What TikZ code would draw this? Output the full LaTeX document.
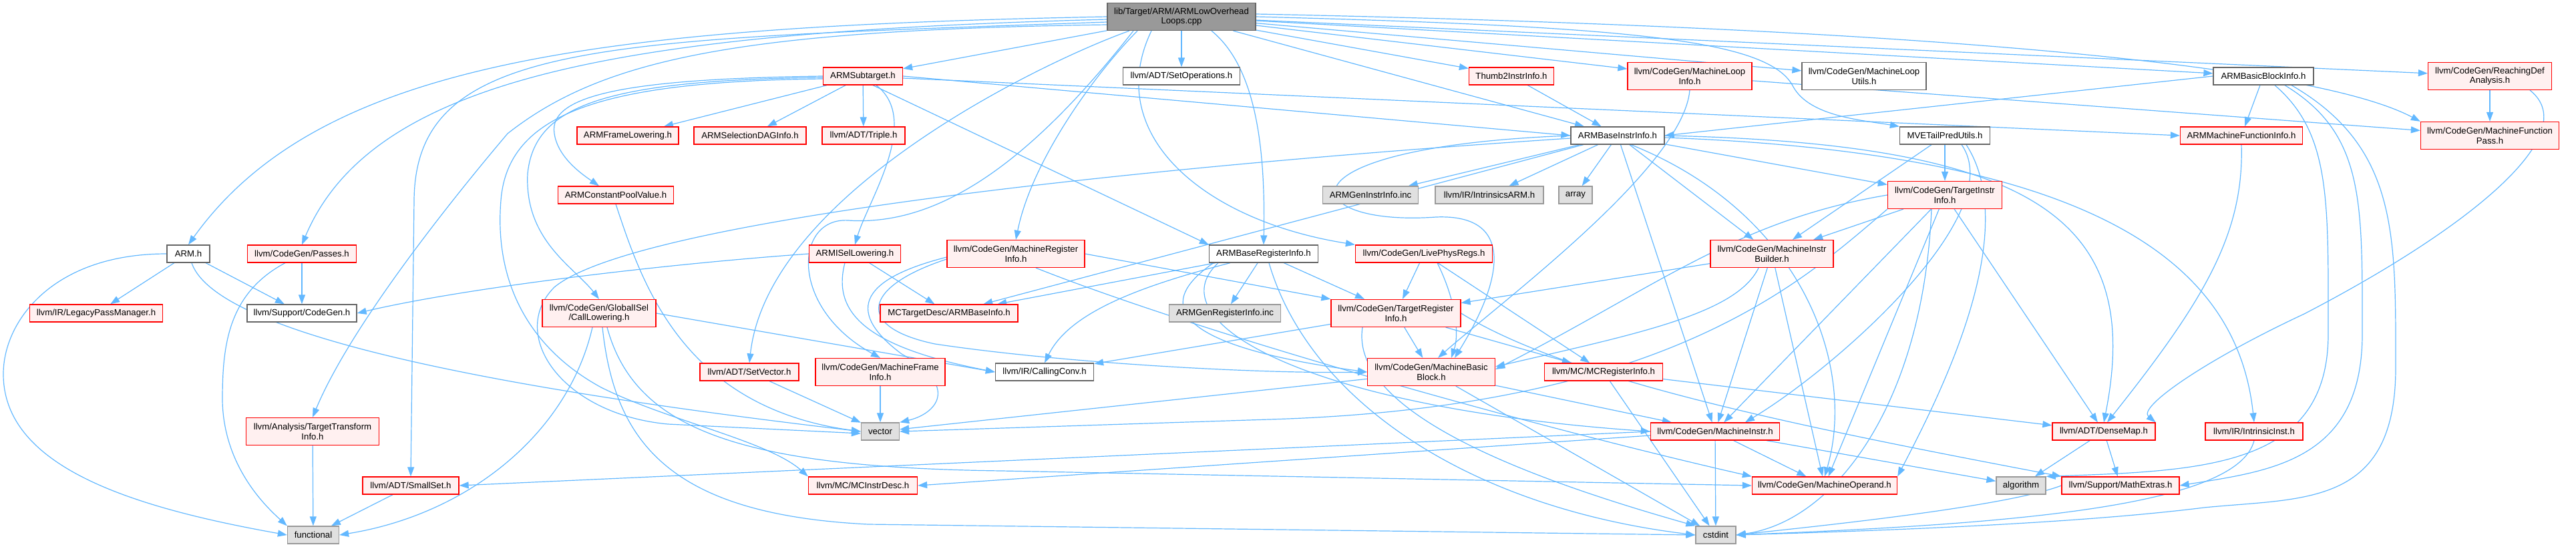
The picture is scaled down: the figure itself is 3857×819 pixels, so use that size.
\documentclass[tikz,border=0pt]{standalone}
\usepackage{fontspec}
\setmainfont{Liberation Sans}
\usetikzlibrary{arrows.meta}
\definecolor{eblue}{HTML}{63B8FF}
\definecolor{rfill}{HTML}{FFF0F0}
\definecolor{gfill}{HTML}{E0E0E0}
\definecolor{rline}{HTML}{FF0000}
\pgfdeclarelayer{bg}
\pgfsetlayers{bg,main}
\tikzset{
  box/.style={rectangle, inner sep=0pt, font=\fontsize{13.2}{14.6}\selectfont, align=center, line width=1.3pt, minimum height=26pt},
  two/.style={minimum height=41pt},
  rbox/.style={box, draw=rline, fill=rfill},
  wbox/.style={box, draw=black!60, fill=white},
  gbox/.style={box, draw=black!40, fill=gfill},
  tbox/.style={box, draw=black!60, fill=black!40},
  conn/.style={draw=eblue, line width=1.2pt, -{Triangle[length=14pt,width=10pt]}},
}
\begin{document}
\begin{tikzpicture}[x=1pt,y=-1pt]
\useasboundingbox (0,0) rectangle (3857,819);
% row 0
\node[tbox,two,minimum width=222pt] (top) at (1769,25) {lib/Target/ARM/ARMLowOverhead\\Loops.cpp};
% row 1
\node[rbox,minimum width=119pt] (subt) at (1292,114) {ARMSubtarget.h};
\node[wbox,minimum width=175pt] (setops) at (1769,114) {llvm/ADT/SetOperations.h};
\node[rbox,minimum width=127pt] (t2ii) at (2263,114) {Thumb2InstrInfo.h};
\node[rbox,two,minimum width=186pt] (mli) at (2530,114) {llvm/CodeGen/MachineLoop\\Info.h};
\node[wbox,two,minimum width=186pt] (mlu) at (2791,114) {llvm/CodeGen/MachineLoop\\Utils.h};
\node[wbox,minimum width=150pt] (bbi) at (3389,114) {ARMBasicBlockInfo.h};
\node[rbox,two,minimum width=185pt] (rda) at (3728,114) {llvm/CodeGen/ReachingDef\\Analysis.h};
% row 2
\node[rbox,minimum width=152pt] (afl) at (940,203) {ARMFrameLowering.h};
\node[rbox,minimum width=168pt] (sdag) at (1123,203) {ARMSelectionDAGInfo.h};
\node[rbox,minimum width=124pt] (triple) at (1293,203) {llvm/ADT/Triple.h};
\node[wbox,minimum width=140pt] (bii) at (2422,203) {ARMBaseInstrInfo.h};
\node[wbox,minimum width=135pt] (mve) at (2912,203) {MVETailPredUtils.h};
\node[rbox,minimum width=183pt] (mfi) at (3356,203) {ARMMachineFunctionInfo.h};
\node[rbox,two,minimum width=207pt] (mfp) at (3728,203) {llvm/CodeGen/MachineFunction\\Pass.h};
% row 3
\node[rbox,minimum width=173pt] (cpv) at (922,292) {ARMConstantPoolValue.h};
\node[gbox,minimum width=143pt] (geninc) at (2052,292) {ARMGenInstrInfo.inc};
\node[gbox,minimum width=162pt] (iarm) at (2230,292) {llvm/IR/IntrinsicsARM.h};
\node[gbox,minimum width=50pt] (array) at (2359,292) {array};
\node[rbox,two,minimum width=171pt] (tii) at (2912,292) {llvm/CodeGen/TargetInstr\\Info.h};
% row 4
\node[wbox,minimum width=64pt] (arm) at (282,380) {ARM.h};
\node[rbox,minimum width=163pt] (passes) at (452,380) {llvm/CodeGen/Passes.h};
\node[rbox,minimum width=137pt] (isel) at (1280,380) {ARMISelLowering.h};
\node[rbox,two,minimum width=206pt] (mri) at (1521,380) {llvm/CodeGen/MachineRegister\\Info.h};
\node[wbox,minimum width=163pt] (bri) at (1892,380) {ARMBaseRegisterInfo.h};
\node[rbox,minimum width=205pt] (lpr) at (2132,380) {llvm/CodeGen/LivePhysRegs.h};
\node[rbox,two,minimum width=184pt] (mib) at (2653,380) {llvm/CodeGen/MachineInstr\\Builder.h};
% row 5
\node[rbox,minimum width=199pt] (lpm) at (144,469) {llvm/IR/LegacyPassManager.h};
\node[wbox,minimum width=164pt] (cg) at (452,469) {llvm/Support/CodeGen.h};
\node[rbox,two,minimum width=170pt] (cl) at (897,469) {llvm/CodeGen/GlobalISel\\/CallLowering.h};
\node[rbox,minimum width=206pt] (abi) at (1421,469) {MCTargetDesc/ARMBaseInfo.h};
\node[gbox,minimum width=167pt] (genreg) at (1834,469) {ARMGenRegisterInfo.inc};
\node[rbox,two,minimum width=194pt] (tri) at (2090,469) {llvm/CodeGen/TargetRegister\\Info.h};
% row 6
\node[rbox,minimum width=148pt] (setvec) at (1122,557) {llvm/ADT/SetVector.h};
\node[rbox,two,minimum width=194pt] (mframe) at (1318,557) {llvm/CodeGen/MachineFrame\\Info.h};
\node[wbox,minimum width=147pt] (cc) at (1564,557) {llvm/IR/CallingConv.h};
\node[rbox,two,minimum width=191pt] (mbb) at (2143,557) {llvm/CodeGen/MachineBasic\\Block.h};
\node[rbox,minimum width=177pt] (mcri) at (2401,557) {llvm/MC/MCRegisterInfo.h};
% row 7
\node[rbox,two,minimum width=199pt] (tti) at (468,646) {llvm/Analysis/TargetTransform\\Info.h};
\node[gbox,minimum width=57pt] (vector) at (1318,646) {vector};
\node[rbox,minimum width=193pt] (mi) at (2568,646) {llvm/CodeGen/MachineInstr.h};
\node[rbox,minimum width=154pt] (dm) at (3150,646) {llvm/ADT/DenseMap.h};
\node[rbox,minimum width=146pt] (ii) at (3375,646) {llvm/IR/IntrinsicInst.h};
% row 8
\node[rbox,minimum width=144pt] (smallset) at (615,727) {llvm/ADT/SmallSet.h};
\node[rbox,minimum width=163pt] (mcid) at (1292,727) {llvm/MC/MCInstrDesc.h};
\node[rbox,minimum width=217pt] (mo) at (2732,727) {llvm/CodeGen/MachineOperand.h};
\node[gbox,minimum width=74pt] (algo) at (3026,727) {algorithm};
\node[rbox,minimum width=176pt] (mathx) at (3175,727) {llvm/Support/MathExtras.h};
% row 9
\node[gbox,minimum width=77pt] (func) at (469,801) {functional};
\node[gbox,minimum width=60pt] (cstdint) at (2569,801) {cstdint};

\begin{pgfonlayer}{bg}
% top node
\draw[conn] (top.west) .. controls (900,40) and (480,90) .. (arm.north);
\draw[conn] ([yshift=-4pt]top.west) .. controls (950,48) and (560,110) .. (passes.north);
\draw[conn] ([yshift=-8pt]top.west) .. controls (900,60) and (622,60) .. (620,300) -- (smallset.north);
\draw[conn] ([yshift=-12pt]top.west) .. controls (1100,45) and (900,90) .. (760,200) .. controls (650,330) and (520,500) .. (tti.north);
\draw[conn] (top) -- (subt);
\draw[conn] (top) -- (setops);
\draw[conn] ([xshift=-78pt]top.south) .. controls (1560,93) and (1150,290) .. (setvec.north);
\draw[conn] ([xshift=-72pt]top.south) .. controls (1560,220) and (1420,340) .. (1270,330) .. controls (1190,325) and (1180,460) .. (mframe.north);
\draw[conn] ([xshift=-66pt]top.south) .. controls (1640,110) and (1545,240) .. (mri.north);
\draw[conn] ([xshift=-45pt]top.south) .. controls (1650,200) and (1800,330) .. (lpr.north west);
\draw[conn] ([xshift=45pt]top.south) .. controls (1880,100) and (1895,220) .. (bri.north);
\draw[conn] (top) -- (t2ii);
\draw[conn] (top) -- (mli);
\draw[conn] (top) -- (mlu);
\draw[conn] (top) -- (bbi);
\draw[conn] (top) -- (rda);
\draw[conn] (top) -- (bii);
\draw[conn] (top.east) .. controls (2450,40) and (2650,60) .. (2685,130) .. controls (2710,175) and (2790,180) .. (mve.north west);
\draw[conn] ([yshift=4pt]top.east) .. controls (2800,40) and (3450,90) .. (mfp.north west);
% ARMSubtarget
\draw[conn] (subt) -- (afl);
\draw[conn] (subt) -- (sdag);
\draw[conn] (subt) -- (triple);
\draw[conn] (subt.west) .. controls (950,118) and (820,140) .. (830,200) .. controls (835,235) and (870,260) .. ([xshift=-25pt]cpv.north);
\draw[conn] ([yshift=-2pt]subt.west) .. controls (900,120) and (800,160) .. (790,260) .. controls (785,360) and (860,400) .. (cl.north);
\draw[conn] ([yshift=-4pt]subt.west) .. controls (900,122) and (760,170) .. (750,300) .. controls (740,420) and (790,520) .. (900,580) .. controls (1000,630) and (1150,660) .. (mcid.north west);
\draw[conn] ([xshift=20pt]subt.south) .. controls (1380,180) and (1300,300) .. (isel.north);
\draw[conn] ([xshift=15pt]subt.south) -- (bri.north west);
\draw[conn] (subt.east) -- (bii.west);
\draw[conn] ([yshift=-3pt]subt.east) -- (mfi.west);
% ARM.h
\draw[conn] (arm) -- (lpm);
\draw[conn] (arm) -- (cg);
\draw[conn] (arm.west) .. controls (80,380) and (5,480) .. (5,560) .. controls (5,700) and (200,760) .. (func.west);
\draw[conn] ([xshift=5pt]arm.south) .. controls (330,520) and (900,600) .. (vector.west);
% Passes
\draw[conn] (passes) -- (cg);
\draw[conn] ([xshift=-25pt]passes.south) .. controls (340,440) and (333,520) .. (333,600) .. controls (335,700) and (400,760) .. (func.north west);
% ISel
\draw[conn] (isel.west) .. controls (1000,395) and (700,430) .. (cg.east);
\draw[conn] (isel) -- (abi);
\draw[conn] ([xshift=-15pt]isel.south) .. controls (1245,470) and (1300,520) .. (cc.west);
% MachineRegisterInfo
\draw[conn] ([yshift=-5pt]mri.west) .. controls (1280,420) and (1270,470) .. (1350,530) .. controls (1440,580) and (1400,620) .. (vector.north east);
\draw[conn] ([yshift=-8pt]mri.west) .. controls (1290,430) and (1280,490) .. (1400,515) .. controls (1600,545) and (1900,560) .. (mbb.west);
\draw[conn] (mri.east) -- (tri.north west);
\draw[conn] ([xshift=30pt]mri.south) .. controls (1800,500) and (2300,640) .. (mo.north west);
% ARMBaseRegisterInfo
\draw[conn] (bri) -- (abi);
\draw[conn] ([xshift=-50pt]bri.south) .. controls (1700,430) and (1600,470) .. (cc.north);
\draw[conn] (bri) -- (genreg);
\draw[conn] (bri) -- (tri);
\draw[conn] ([xshift=-75pt]bri.south) .. controls (1720,460) and (1770,520) .. (mbb.west);
\draw[conn] ([xshift=-68pt]bri.south) .. controls (1730,480) and (1950,610) .. (mi.west);
\draw[conn] ([xshift=8pt]bri.south) .. controls (1960,600) and (2200,760) .. (cstdint.west);
% LivePhysRegs
\draw[conn] (lpr) -- (tri);
\draw[conn] ([xshift=20pt]lpr.south) .. controls (2180,450) and (2185,500) .. ([xshift=30pt]mbb.north);
\draw[conn] (lpr) -- (mcri);
% MachineInstrBuilder
\draw[conn] (mib) -- (tri);
\draw[conn] ([xshift=-20pt]mib.south) .. controls (2600,470) and (2450,500) .. ([yshift=8pt]mbb.east);
\draw[conn] (mib) -- (mi);
\draw[conn] (mib) -- (mo);
% TargetInstrInfo
\draw[conn] (tii) -- (mib);
\draw[conn] (tii.west) .. controls (2600,330) and (2480,430) .. ([yshift=4pt]mbb.east);
\draw[conn] (tii) -- (mi);
\draw[conn] (tii) -- (mo);
\draw[conn] (tii) -- (dm);
\draw[conn] ([xshift=-20pt]tii.south) .. controls (2880,600) and (2750,780) .. (cstdint.east);
\draw[conn] (tii.south west) .. controls (2700,420) and (2500,610) .. (1900,628) -- (vector.east);
% ARMBaseInstrInfo
\draw[conn] (bii) -- (geninc);
\draw[conn] (bii) -- (iarm);
\draw[conn] (bii) -- (array);
\draw[conn] (bii) -- (tii);
\draw[conn] (bii) -- (mib);
\draw[conn] (bii) -- (abi);
\draw[conn] (bii) -- (mi);
\draw[conn] (bii.west) .. controls (1900,220) and (1940,340) .. (2150,325) .. controls (2270,320) and (2250,420) .. ([xshift=35pt]mbb.north);
\draw[conn] ([yshift=-4pt]bii.west) .. controls (1700,250) and (950,330) .. (830,430) .. controls (760,500) and (840,620) .. (1000,635) -- ([yshift=-3pt]vector.west);
\draw[conn] ([xshift=20pt]bii.south) .. controls (2700,320) and (2780,550) .. (mo.north);
\draw[conn] (bii.east) .. controls (3050,215) and (3210,330) .. (dm.north);
\draw[conn] ([yshift=-3pt]bii.east) .. controls (3150,230) and (3350,400) .. (ii.north);
% MVETailPredUtils
\draw[conn] (mve) -- (tii);
\draw[conn] (mve) -- (mib);
\draw[conn] ([xshift=25pt]mve.south) .. controls (3010,320) and (2750,550) .. ([xshift=45pt]mi.north);
\draw[conn] ([xshift=32pt]mve.south) .. controls (3030,350) and (2900,600) .. (mo.north east);
% MachineLoopInfo, ReachingDef
\draw[conn] (mli) -- (mfp);
\draw[conn] (mli.south) .. controls (2520,250) and (2250,450) .. ([xshift=10pt]mbb.north);
\draw[conn] (rda) -- (mfp);
\draw[conn] ([xshift=60pt]rda.south) .. controls (3870,200) and (3700,340) .. (3450,470) .. controls (3300,540) and (3200,610) .. (dm.north east);
% ARMBasicBlockInfo
\draw[conn] (bbi.west) -- (bii.east);
\draw[conn] (bbi) -- (mfi);
\draw[conn] ([xshift=17pt]bbi.south) .. controls (3490,200) and (3486,300) .. (3486,500) .. controls (3486,700) and (3300,705) .. (algo.north east);
\draw[conn] ([xshift=32pt]bbi.south) .. controls (3540,200) and (3537,300) .. (3537,500) .. controls (3537,690) and (3400,705) .. (mathx.east);
\draw[conn] ([xshift=42pt]bbi.south) .. controls (3590,220) and (3587,350) .. (3587,550) .. controls (3587,760) and (3450,745) .. (3300,760) .. controls (3100,785) and (2800,795) .. (cstdint.east);
% ARMMachineFunctionInfo
\draw[conn] (mfi.south) .. controls (3360,350) and (3300,450) .. ([xshift=5pt]dm.north);
% DenseMap, MathExtras, IntrinsicInst
\draw[conn] (dm) -- (algo);
\draw[conn] (dm) -- (mathx);
\draw[conn] (mathx.west) .. controls (3000,760) and (2700,790) .. (cstdint.east);
\draw[conn] (ii.south) .. controls (3350,760) and (3000,785) .. (cstdint.east);
% MachineInstr
\draw[conn] (mi) -- (mo);
\draw[conn] (mi) -- (cstdint);
\draw[conn] (mi) -- (algo);
\draw[conn] (mi.west) -- (smallset.east);
\draw[conn] ([yshift=-6pt]mi.west) -- (mcid.east);
% MachineBasicBlock
\draw[conn] (mbb) -- (mi);
\draw[conn] (mbb) -- (cstdint);
\draw[conn] (mbb) -- (vector);
% MCRegisterInfo
\draw[conn] (mcri) -- (cstdint);
\draw[conn] (mcri) -- (dm);
% TargetRegisterInfo
\draw[conn] (tri) -- (mbb);
\draw[conn] (tri) -- (mcri);
\draw[conn] (tri) -- (cc);
\draw[conn] ([xshift=-50pt]tri.south) .. controls (2020,620) and (2300,720) .. (cstdint.north west);
\draw[conn] (tri.east) .. controls (2350,570) and (2700,640) .. (mathx.north west);
% CallLowering
\draw[conn] ([xshift=-10pt]cl.south) .. controls (850,650) and (700,770) .. (func.east);
\draw[conn] (cl.east) -- (cc.west);
\draw[conn] ([xshift=12pt]cl.south) .. controls (950,640) and (1100,700) .. (1500,705) -- (mo.west);
\draw[conn] ([xshift=5pt]cl.south) .. controls (920,660) and (1000,770) .. (1300,785) -- (cstdint.west);
% leaves
\draw[conn] (cpv.south) .. controls (960,420) and (1020,610) .. (vector.west);
\draw[conn] (setvec) -- (vector);
\draw[conn] (mframe) -- (vector);
\draw[conn] (smallset) -- (func);
\draw[conn] (tti) -- (func);
\draw[conn] (t2ii) -- (bii);
\end{pgfonlayer}
\end{tikzpicture}
\end{document}
